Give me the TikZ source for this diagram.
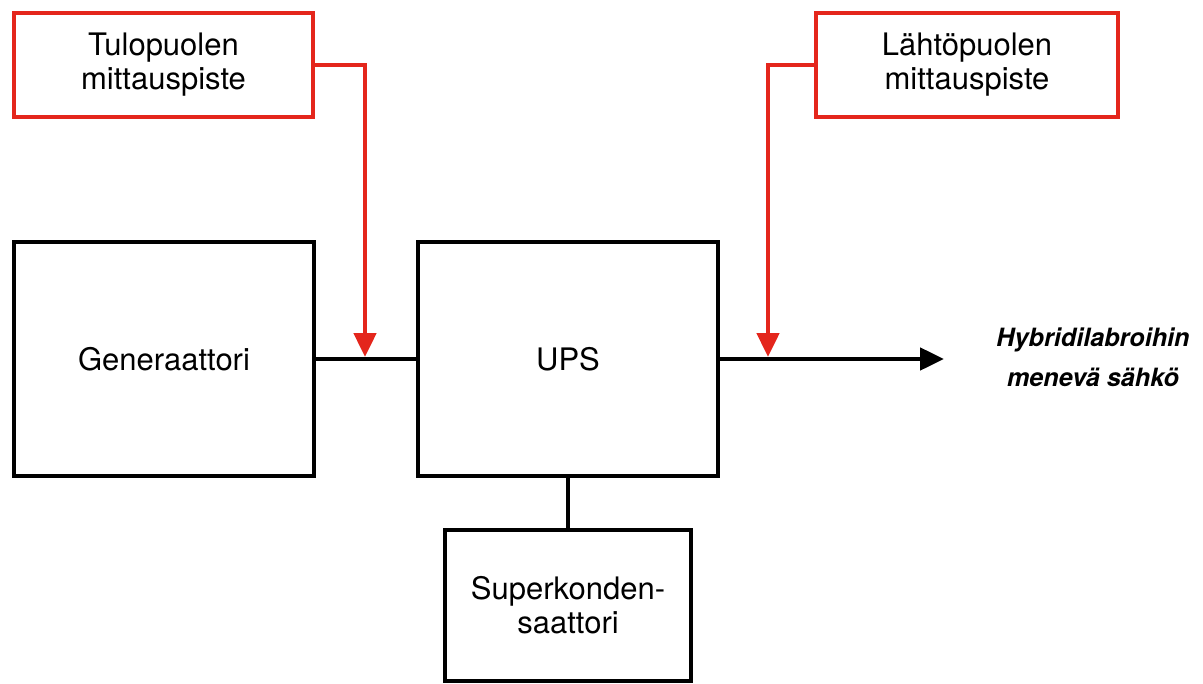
\documentclass[tikz,border=0pt]{standalone}
\usepackage{fontspec}
\setmainfont{TeX Gyre Heros}
\usepackage{xcolor}
\usetikzlibrary{arrows.meta}
\definecolor{mittausred}{RGB}{228,38,28}
\tikzset{%
	block/.style    = {draw, line width=2.4pt, rectangle, inner sep=0pt,
		align=center, font=\fontsize{15.5}{17}\selectfont}, % Laite
	mittaus/.style  = {block, draw=mittausred}, % Mittauspiste
	punainen/.style = {draw=mittausred, line width=2.4pt}, % Mittausviiva
	output/.style   = {coordinate} % Output
}

\begin{document}
\begin{tikzpicture}[x=0.5pt,y=-0.5pt,>={Triangle[length=12pt,width=11pt]}]
	\useasboundingbox (0,0) rectangle (1203,684);
	
	\node[mittaus, minimum width=149.5pt, minimum height=52pt] at (163.5,65) (tulo) {Tulopuolen\\mittauspiste};
	\node[mittaus, minimum width=151pt, minimum height=52pt] at (967,65) (lahto) {Lähtöpuolen\\mittauspiste};
	\node[block, minimum width=150pt, minimum height=117pt] at (164,359) (gen) {Generaattori};
	\node[block, minimum width=150pt, minimum height=117pt] at (568,359) (ups) {UPS};
	\node[block, minimum width=123pt, minimum height=75.5pt] at (568,605.5) (superk) {Superkonden-\\saattori};
	\node[align=center, font=\fontsize{12.6}{20}\selectfont\bfseries\itshape] at (1093,357) (kuorma) {Hybridilabroihin\\menevä sähkö};
	\node[output] at (365,357) (tulokohta) {};
	\node[output] at (768,357) (lahtokohta) {};
	\node[output] at (944,359) (ulos) {};
	
	\draw[line width=2.4pt] (gen) -- (ups);
	\draw[line width=2.4pt] (ups) -- (superk);
	\draw[line width=2.4pt,->] (ups.east) -- (ulos);
	\draw[punainen,->] (tulo.east) -| (tulokohta);
	\draw[punainen,->] (lahto.west) -| (lahtokohta);
	
\end{tikzpicture}
\end{document}
